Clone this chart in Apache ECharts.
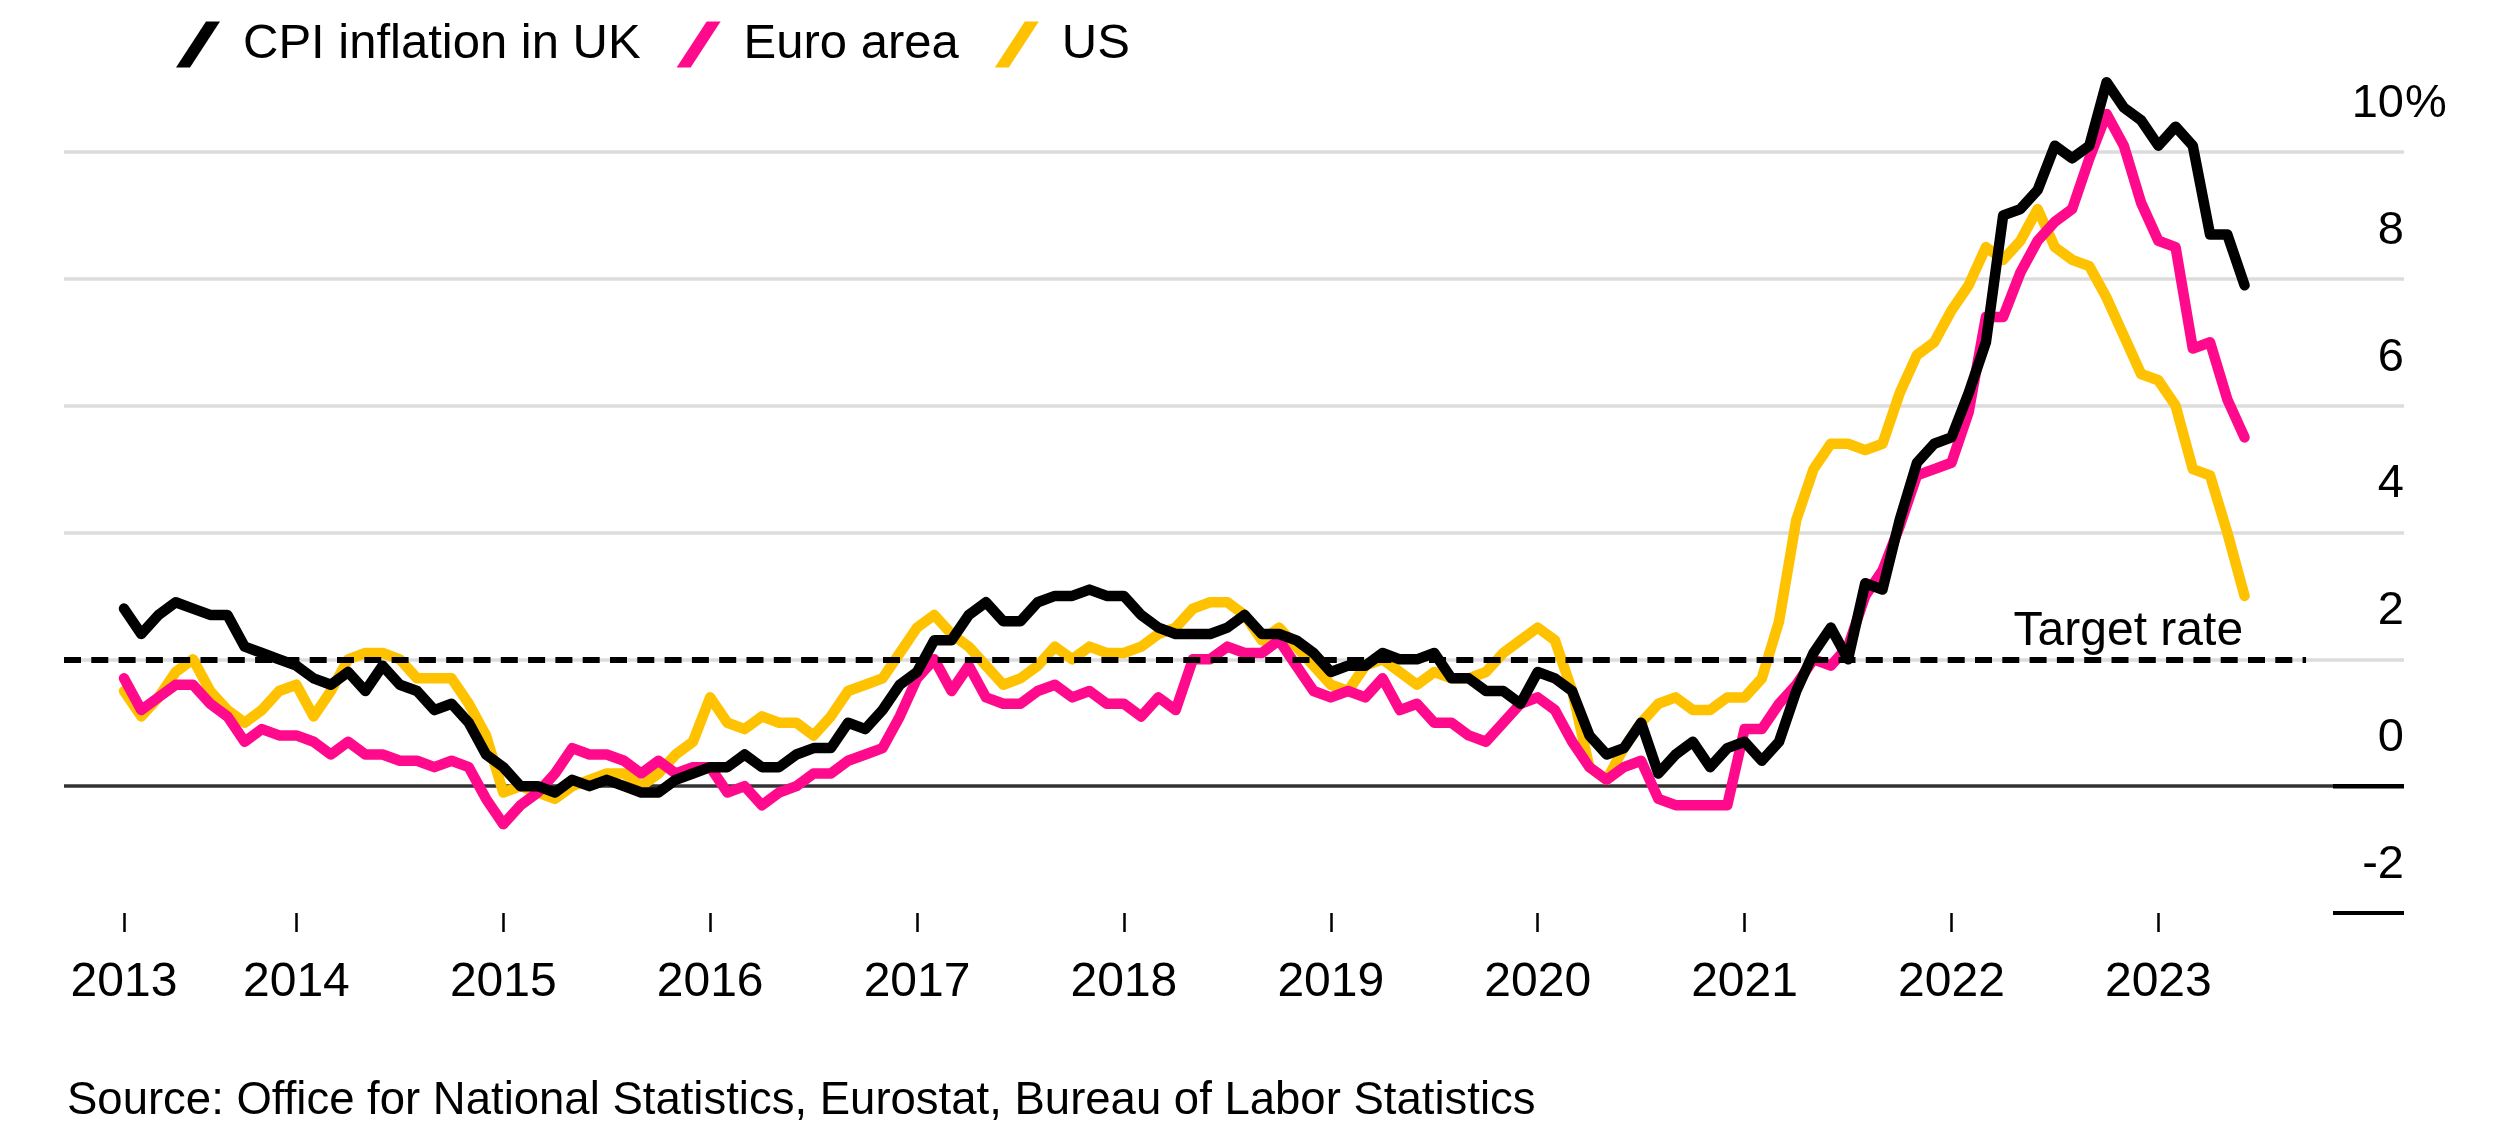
<!DOCTYPE html>
<html>
<head>
<meta charset="utf-8">
<script src="https://cdn.jsdelivr.net/npm/echarts@6/dist/echarts.min.js"></script>
<style>
html,body{margin:0;padding:0;background:#fff;}
#chart{width:2496px;height:1142px;}
</style>
</head>
<body>
<div id="chart"></div>
<script>
// First observation: March 2013 (month index 2 counted from Jan 2013 = 0)
const firstMonthIndex = 2;

// UK CPI, % y/y, Mar 2013 .. Jun 2023
const ukCPI = [
  2.8, 2.4, 2.7, 2.9, 2.8, 2.7, 2.7, 2.2, 2.1, 2.0,
  1.9, 1.7, 1.6, 1.8, 1.5, 1.9, 1.6, 1.5, 1.2, 1.3, 1.0, 0.5,
  0.3, 0.0, 0.0, -0.1, 0.1, 0.0, 0.1, 0.0, -0.1, -0.1, 0.1, 0.2,
  0.3, 0.3, 0.5, 0.3, 0.3, 0.5, 0.6, 0.6, 1.0, 0.9, 1.2, 1.6,
  1.8, 2.3, 2.3, 2.7, 2.9, 2.6, 2.6, 2.9, 3.0, 3.0, 3.1, 3.0,
  3.0, 2.7, 2.5, 2.4, 2.4, 2.4, 2.5, 2.7, 2.4, 2.4, 2.3, 2.1,
  1.8, 1.9, 1.9, 2.1, 2.0, 2.0, 2.1, 1.7, 1.7, 1.5, 1.5, 1.3,
  1.8, 1.7, 1.5, 0.8, 0.5, 0.6, 1.0, 0.2, 0.5, 0.7, 0.3, 0.6,
  0.7, 0.4, 0.7, 1.5, 2.1, 2.5, 2.0, 3.2, 3.1, 4.2, 5.1, 5.4,
  5.5, 6.2, 7.0, 9.0, 9.1, 9.4, 10.1, 9.9, 10.1, 11.1, 10.7, 10.5,
  10.1, 10.4, 10.1, 8.7, 8.7, 7.9
];

// Euro area HICP, % y/y, Mar 2013 .. Jun 2023
const euroHICP = [
  1.7, 1.2, 1.4, 1.6, 1.6, 1.3, 1.1, 0.7, 0.9, 0.8,
  0.8, 0.7, 0.5, 0.7, 0.5, 0.5, 0.4, 0.4, 0.3, 0.4, 0.3, -0.2,
  -0.6, -0.3, -0.1, 0.2, 0.6, 0.5, 0.5, 0.4, 0.2, 0.4, 0.2, 0.3,
  0.3, -0.1, 0.0, -0.3, -0.1, 0.0, 0.2, 0.2, 0.4, 0.5, 0.6, 1.1,
  1.7, 2.0, 1.5, 1.9, 1.4, 1.3, 1.3, 1.5, 1.6, 1.4, 1.5, 1.3,
  1.3, 1.1, 1.4, 1.2, 2.0, 2.0, 2.2, 2.1, 2.1, 2.3, 1.9, 1.5,
  1.4, 1.5, 1.4, 1.7, 1.2, 1.3, 1.0, 1.0, 0.8, 0.7, 1.0, 1.3,
  1.4, 1.2, 0.7, 0.3, 0.1, 0.3, 0.4, -0.2, -0.3, -0.3, -0.3, -0.3,
  0.9, 0.9, 1.3, 1.6, 2.0, 1.9, 2.2, 3.0, 3.4, 4.1, 4.9, 5.0,
  5.1, 5.9, 7.4, 7.4, 8.1, 8.6, 8.9, 9.1, 9.9, 10.6, 10.1, 9.2,
  8.6, 8.5, 6.9, 7.0, 6.1, 5.5
];

// US CPI, % y/y, Mar 2013 .. Jun 2023
const usCPI = [
  1.5, 1.1, 1.4, 1.8, 2.0, 1.5, 1.2, 1.0, 1.2, 1.5,
  1.6, 1.1, 1.5, 2.0, 2.1, 2.1, 2.0, 1.7, 1.7, 1.7, 1.3, 0.8,
  -0.1, 0.0, -0.1, -0.2, 0.0, 0.1, 0.2, 0.2, 0.0, 0.2, 0.5, 0.7,
  1.4, 1.0, 0.9, 1.1, 1.0, 1.0, 0.8, 1.1, 1.5, 1.6, 1.7, 2.1,
  2.5, 2.7, 2.4, 2.2, 1.9, 1.6, 1.7, 1.9, 2.2, 2.0, 2.2, 2.1,
  2.1, 2.2, 2.4, 2.5, 2.8, 2.9, 2.9, 2.7, 2.3, 2.5, 2.2, 1.9,
  1.6, 1.5, 1.9, 2.0, 1.8, 1.6, 1.8, 1.7, 1.7, 1.8, 2.1, 2.3,
  2.5, 2.3, 1.5, 0.3, 0.1, 0.6, 1.0, 1.3, 1.4, 1.2, 1.2, 1.4,
  1.4, 1.7, 2.6, 4.2, 5.0, 5.4, 5.4, 5.3, 5.4, 6.2, 6.8, 7.0,
  7.5, 7.9, 8.5, 8.3, 8.6, 9.1, 8.5, 8.3, 8.2, 7.7, 7.1, 6.5,
  6.4, 6.0, 5.0, 4.9, 4.0, 3.0
];

const seriesNames = ['CPI inflation in UK', 'Euro area', 'US'];
const seriesColors = ['#000000', '#ff0a8c', '#ffc200'];

// x-axis ticks (month index from Jan 2013) and their labels
const yearTickMonths = [2, 12, 24, 36, 48, 60, 72, 84, 96, 108, 120];
const yearLabels = ['2013', '2014', '2015', '2016', '2017', '2018', '2019', '2020', '2021', '2022', '2023'];

const targetRate = 2;
const targetLabel = 'Target rate';
const sourceText = 'Source: Office for National Statistics, Eurostat, Bureau of Labor Statistics';

const FONT = "'Liberation Sans', Arial, Helvetica, sans-serif";
const X_MIN = -1.48, X_MAX = 134.25, TARGET_END = 128.57;

function toPoints(arr) {
  return arr.map((v, i) => [firstMonthIndex + i, v]);
}

const chart = echarts.init(document.getElementById('chart'), null, {renderer: 'canvas'});

const lineSeries = (idx, values, extra) => Object.assign({
  type: 'line',
  name: seriesNames[idx],
  data: toPoints(values),
  showSymbol: false,
  symbol: 'none',
  clip: false,
  animation: false,
  lineStyle: {width: 10.5, color: seriesColors[idx], join: 'round', cap: 'round'},
  itemStyle: {color: seriesColors[idx]},
  emphasis: {disabled: true}
}, extra || {});

chart.setOption({
  animation: false,
  backgroundColor: '#ffffff',
  textStyle: {fontFamily: FONT},
  grid: {left: 64, right: 92, top: 152, bottom: 229, containLabel: false},
  legend: {
    data: seriesNames,
    left: 171,
    top: 15,
    itemWidth: 44,
    itemHeight: 46,
    itemGap: 36,
    icon: 'path://M0,46L14,46L44,0L30,0Z',
    itemStyle: {borderWidth: 0},
    selectedMode: false,
    textStyle: {fontSize: 49, color: '#000', fontFamily: FONT, padding: [0, 0, 0, 18]}
  },
  xAxis: {
    type: 'value',
    min: X_MIN,
    max: X_MAX,
    axisLine: {show: false, onZero: false},
    splitLine: {show: false},
    axisTick: {
      show: true,
      customValues: yearTickMonths,
      length: 19,
      lineStyle: {color: '#000', width: 2.5}
    },
    axisLabel: {
      customValues: yearTickMonths,
      formatter: v => yearLabels[yearTickMonths.indexOf(v)] || '',
      fontSize: 48,
      color: '#000',
      fontFamily: FONT,
      margin: 46
    }
  },
  yAxis: {
    type: 'value',
    position: 'right',
    min: -2,
    max: 10,
    interval: 2,
    axisLine: {show: false},
    axisTick: {show: false},
    splitLine: {
      show: true,
      lineStyle: {color: ['rgba(0,0,0,0)', '#333333', '#dcdcdc', '#dcdcdc', '#dcdcdc', '#dcdcdc', '#dcdcdc'], width: 3.5}
    },
    axisLabel: {
      inside: true,
      margin: 0,
      align: 'right',
      verticalAlign: 'bottom',
      lineHeight: 96,
      fontSize: 47,
      color: '#000',
      fontFamily: FONT
    }
  },
  series: [
    lineSeries(2, usCPI, {z: 2}),
    lineSeries(1, euroHICP, {z: 3}),
    lineSeries(0, ukCPI, {
      z: 4,
      markLine: {
        silent: true,
        symbol: ['none', 'none'],
        animation: false,
        lineStyle: {type: [17, 10.3], color: '#000', width: 6},
        label: {
          show: true,
          position: 'insideEndTop',
          formatter: targetLabel,
          fontSize: 48,
          color: '#000',
          fontFamily: FONT,
          distance: [63, 4]
        },
        emphasis: {disabled: true},
        data: [[{coord: [X_MIN, targetRate]}, {coord: [TARGET_END, targetRate]}]]
      }
    })
  ]
});

// Extra decorations positioned through the chart's own scales
const yTop = chart.convertToPixel({yAxisIndex: 0}, 10);
const y0 = chart.convertToPixel({yAxisIndex: 0}, 0);
const yMin = chart.convertToPixel({yAxisIndex: 0}, -2);
const xRight = chart.convertToPixel({xAxisIndex: 0}, X_MAX);

chart.setOption({
  graphic: [
    {type: 'text', left: 67, top: 1078, silent: true,
     style: {text: sourceText, fontSize: 45.5, fill: '#000', fontFamily: FONT}},
    {type: 'text', x: xRight + 1, y: yTop - 48, silent: true,
     style: {text: '%', fontSize: 47, fill: '#000', fontFamily: FONT, align: 'left', verticalAlign: 'middle'}},
    {type: 'line', silent: true, z: 10,
     shape: {x1: xRight - 71, y1: y0, x2: xRight, y2: y0},
     style: {stroke: '#000', lineWidth: 4.5}},
    {type: 'line', silent: true, z: 10,
     shape: {x1: xRight - 71, y1: yMin, x2: xRight, y2: yMin},
     style: {stroke: '#000', lineWidth: 4}}
  ]
});
</script>
</body>
</html>
